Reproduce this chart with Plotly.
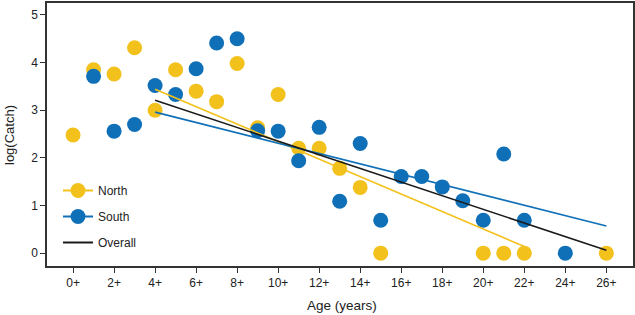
import plotly.graph_objects as go

# Data
north_age = [0, 1, 2, 3, 4, 5, 6, 7, 8, 9, 10, 11, 12, 13, 14, 15, 20, 21, 22, 26]
north_log = [2.48, 3.85, 3.76, 4.31, 3.00, 3.85, 3.40, 3.18, 3.98, 2.63, 3.33, 2.20, 2.20, 1.78, 1.38, 0.0, 0.0, 0.0, 0.0, 0.0]

south_age = [1, 2, 3, 4, 5, 6, 7, 8, 9, 10, 11, 12, 13, 14, 15, 16, 17, 18, 19, 20, 21, 22, 24]
south_log = [3.71, 2.56, 2.70, 3.52, 3.33, 3.87, 4.41, 4.50, 2.57, 2.56, 1.94, 2.64, 1.09, 2.30, 0.69, 1.61, 1.61, 1.39, 1.10, 0.69, 2.08, 0.69, 0.0]

# Fitted lines (endpoints)
north_fit_age = [4, 22]
north_fit_log = [3.44, 0.14]
south_fit_age = [4, 26]
south_fit_log = [2.96, 0.57]
overall_fit_age = [4, 26]
overall_fit_log = [3.21, 0.06]

x_ticks = list(range(0, 27, 2))
x_tick_labels = [f"{v}+" for v in x_ticks]
y_ticks = [0, 1, 2, 3, 4, 5]

YEL = "#F2C11C"
BLU = "#0F70B8"

fig = go.Figure()
fig.add_trace(go.Scatter(x=north_age, y=north_log, mode="markers",
                         marker=dict(color=YEL, size=15), showlegend=False))
fig.add_trace(go.Scatter(x=south_age, y=south_log, mode="markers",
                         marker=dict(color=BLU, size=15), showlegend=False))
fig.add_trace(go.Scatter(x=north_fit_age, y=north_fit_log, mode="lines",
                         line=dict(color=YEL, width=1.6), showlegend=False))
fig.add_trace(go.Scatter(x=south_fit_age, y=south_fit_log, mode="lines",
                         line=dict(color=BLU, width=1.6), showlegend=False))
fig.add_trace(go.Scatter(x=overall_fit_age, y=overall_fit_log, mode="lines",
                         line=dict(color="#1a1a1a", width=1.6), showlegend=False))
# Legend entries
fig.add_trace(go.Scatter(x=[None], y=[None], mode="lines+markers", name="North",
                         legendgroup="n",
                         marker=dict(color=YEL, size=15), line=dict(color=YEL, width=2)))
fig.add_trace(go.Scatter(x=[None], y=[None], mode="lines+markers", name="South",
                         legendgroup="s",
                         marker=dict(color=BLU, size=15), line=dict(color=BLU, width=2)))
fig.add_trace(go.Scatter(x=[None], y=[None], mode="lines", name="Overall",
                         legendgroup="o",
                         line=dict(color="#1a1a1a", width=2)))

W, H = 635, 315
ML, MR, MT, MB = 47, 2, 3, 49
plot_w = W - ML - MR
plot_h = H - MT - MB

fig.update_layout(
    width=W, height=H,
    margin=dict(l=ML, r=MR, t=MT, b=MB, autoexpand=False),
    paper_bgcolor="white", plot_bgcolor="white",
    font=dict(family="Liberation Sans, Arial, sans-serif", size=12, color="#222"),
    legend=dict(x=(58 - ML) / plot_w, y=(266 - 176) / plot_h, xanchor="left", yanchor="top",
                bgcolor="rgba(0,0,0,0)", tracegroupgap=7, itemwidth=30,
                font=dict(size=12)),
    xaxis=dict(range=[-1.27, 27.3], tickvals=x_ticks, ticktext=x_tick_labels,
               ticks="outside", ticklen=5, tickcolor="#333", showgrid=False,
               zeroline=False, showline=True, linecolor="#333", linewidth=1.5,
               mirror=True, automargin=False),
    yaxis=dict(range=[-0.27, 5.25], tickvals=y_ticks,
               ticks="outside", ticklen=5, tickcolor="#333", showgrid=False,
               zeroline=False, showline=True, linecolor="#333", linewidth=1.5,
               mirror=True, automargin=False),
    annotations=[
        dict(text="Age (years)", x=(342 - ML) / plot_w, y=(266 - 305) / plot_h,
             xref="paper", yref="paper", xanchor="center", yanchor="middle",
             showarrow=False, font=dict(size=13.5)),
        dict(text="log(Catch)", x=(9 - ML) / plot_w, y=(266 - 135) / plot_h,
             xref="paper", yref="paper", xanchor="center", yanchor="middle",
             showarrow=False, textangle=-90, font=dict(size=13)),
    ],
)

fig.write_html("out.html", config={"displayModeBar": False},
               post_script="document.body.style.margin='0';")
